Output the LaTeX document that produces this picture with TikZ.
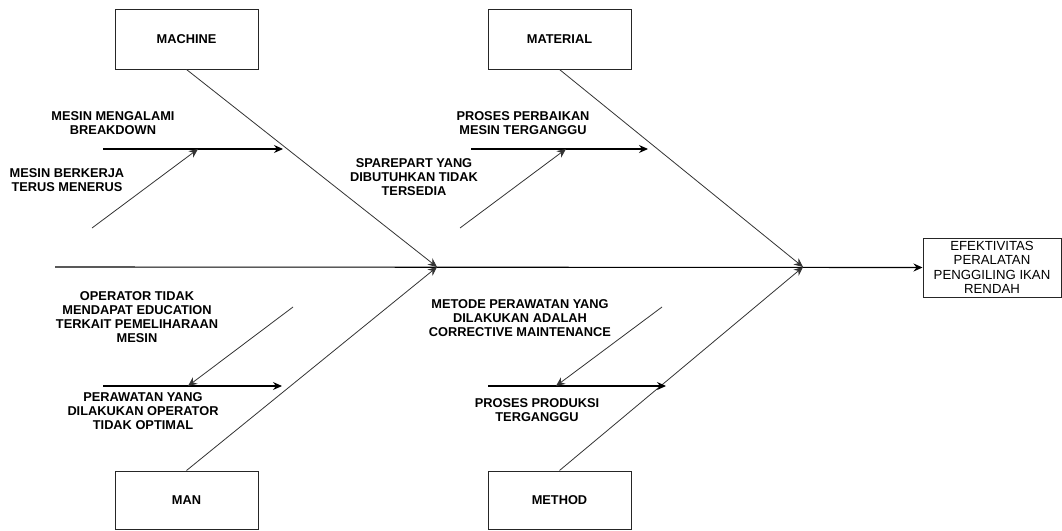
\documentclass[tikz,border=0pt]{standalone}
\usepackage{fontspec}
\setmainfont{Liberation Sans}
\usetikzlibrary{arrows.meta}
\begin{document}
\begin{tikzpicture}[x=1pt,y=-1pt,
  catbox/.style={draw=black!85, line width=1pt, minimum width=143pt, minimum height=60pt, inner sep=0pt, font=\fontsize{12.8}{14}\selectfont\bfseries},
  effectbox/.style={draw=black!85, line width=1pt, minimum width=138pt, minimum height=59pt, inner sep=0pt, align=center, font=\fontsize{13.2}{14.5}\selectfont},
  bone/.style={draw=black!80, line width=0.8pt, -{Stealth[length=9pt,width=8pt,inset=3pt]}},
  spine/.style={draw=black, line width=1.1pt, -{Stealth[length=9pt,width=8pt,inset=3pt]}},
  lbl/.style={align=center, inner sep=0pt, font=\fontsize{12.8}{14}\selectfont\bfseries}]
\useasboundingbox (0,0) rectangle (1062,530);

% category boxes
\node[catbox] (machine) at (186.5,39) {MACHINE};
\node[catbox] (material) at (559.5,39) {MATERIAL};
\node[catbox, minimum height=58pt] (man) at (186.5,500) {MAN};
\node[catbox, minimum height=58pt] (method) at (559.5,500) {METHOD};
\node[effectbox] (effect) at (992,267.5) {EFEKTIVITAS\\PERALATAN\\PENGGILING IKAN\\RENDAH};

% spine
\coordinate (s0) at (55,267);
\coordinate (j1) at (437,267);
\coordinate (j2) at (803,267);
\draw[spine] (s0) -- (effect.west);

% main bones
\draw[bone] (machine.south) -- (j1);
\draw[bone] (man.north) -- (j1);
\draw[bone] (material.south) -- (j2);
\draw[bone] (method.north) -- (j2);

% machine sub-causes
\coordinate (m1s) at (103,149); \coordinate (m1e) at (283,149);
\coordinate (m2s) at (92,228);  \coordinate (m2e) at (198,149);
\draw[spine] (m1s) -- (m1e);
\draw[bone] (m2s) -- (m2e);
\node[lbl] (l1) at (113,123) {MESIN MENGALAMI\\BREAKDOWN};
\node[lbl] (l2) at (67,180) {MESIN BERKERJA\\TERUS MENERUS};

% material sub-causes
\coordinate (t1s) at (471,149); \coordinate (t1e) at (648,149);
\coordinate (t2s) at (460,228); \coordinate (t2e) at (566,149);
\draw[spine] (t1s) -- (t1e);
\draw[bone] (t2s) -- (t2e);
\node[lbl] (l3) at (523,123) {PROSES PERBAIKAN\\MESIN TERGANGGU};
\node[lbl] (l4) at (414,177) {SPAREPART YANG\\DIBUTUHKAN TIDAK\\TERSEDIA};

% man sub-causes
\coordinate (n1s) at (103,386); \coordinate (n1e) at (282,386);
\coordinate (n2s) at (293,307); \coordinate (n2e) at (188,386);
\draw[spine] (n1s) -- (n1e);
\draw[bone] (n2s) -- (n2e);
\node[lbl] (l5) at (137,317) {OPERATOR TIDAK\\MENDAPAT EDUCATION\\TERKAIT PEMELIHARAAN\\MESIN};
\node[lbl] (l6) at (143,411) {PERAWATAN YANG\\DILAKUKAN OPERATOR\\TIDAK OPTIMAL};

% method sub-causes
\coordinate (d1s) at (488,386); \coordinate (d1e) at (666,386);
\coordinate (d2s) at (662,307); \coordinate (d2e) at (556,386);
\draw[spine] (d1s) -- (d1e);
\draw[bone] (d2s) -- (d2e);
\node[lbl] (l7) at (520,318) {METODE PERAWATAN YANG\\DILAKUKAN ADALAH\\CORRECTIVE MAINTENANCE};
\node[lbl] (l8) at (537,410) {PROSES PRODUKSI\\TERGANGGU};
\end{tikzpicture}
\end{document}
